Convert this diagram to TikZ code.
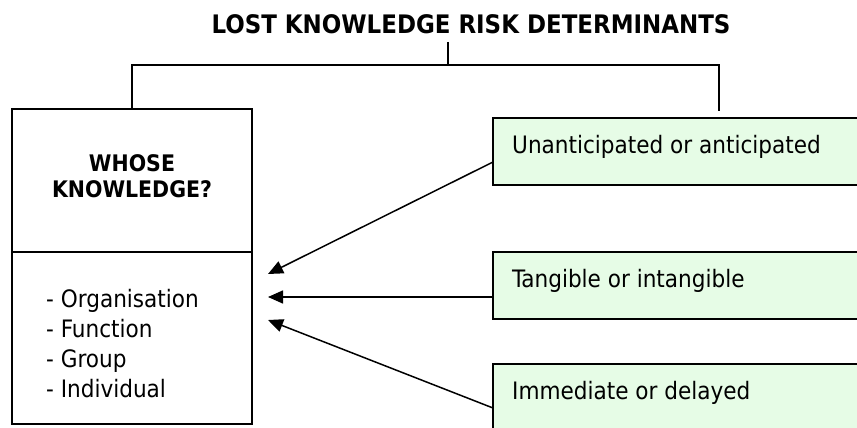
\documentclass[tikz,border=0pt]{standalone}
\usepackage{fontspec}
\setmainfont{DejaVu Sans Condensed}
\usetikzlibrary{arrows.meta}
\definecolor{paleg}{RGB}{230,252,230}
\tikzset{
  frame/.style={draw=black, line width=1.5pt, inner sep=0pt, outer sep=0pt},
  factor/.style={frame, fill=paleg, anchor=north west, minimum width=420pt, minimum height=67pt},
  label/.style={inner sep=0pt, anchor=base west, font=\fontsize{24}{28}\selectfont},
  heading/.style={inner sep=0pt, anchor=base, font=\fontsize{25.5}{30}\selectfont\bfseries},
  boxhead/.style={inner sep=0pt, anchor=base, font=\fontsize{22.8}{27}\selectfont\bfseries},
  wire/.style={line width=1.5pt},
  arr/.style={line width=1.5pt, -{Triangle[length=15pt,width=13pt]}}
}
\begin{document}
\begin{tikzpicture}[x=1pt,y=-1pt]
  \clip (0,0) rectangle (857,428);
  \fill[white] (0,0) rectangle (857,428);

  % title
  \node[heading] (title) at (471,34) {LOST KNOWLEDGE RISK DETERMINANTS};

  % left box: heading part and list part
  \node[frame, anchor=north west, minimum width=240pt, minimum height=143pt] (whose) at (12,109) {};
  \node[frame, anchor=north west, minimum width=240pt, minimum height=172pt] (levels) at (12,252) {};
  \node[boxhead] (w1) at (132,171) {WHOSE};
  \node[boxhead] (w2) at (132,197) {KNOWLEDGE?};
  \node[label] (l1) at (46,307) {- Organisation};
  \node[label] (l2) at (46,337) {- Function};
  \node[label] (l3) at (46,367) {- Group};
  \node[label] (l4) at (46,397) {- Individual};

  % determinant boxes
  \node[factor] (g1) at (493,118) {};
  \node[factor] (g2) at (493,252) {};
  \node[factor] (g3) at (493,364) {};
  \node[label] (t1) at (512,153) {Unanticipated or anticipated};
  \node[label] (t2) at (512,287) {Tangible or intangible};
  \node[label] (t3) at (512,399) {Immediate or delayed};

  % tree under the title
  \coordinate (stem) at (448,42);
  \coordinate (bar) at (448,65);
  \coordinate (rjoin) at (719,111);
  \draw[wire] (stem) -- (bar);
  \draw[wire] (whose.north) |- (bar) -| (rjoin);

  % arrows into the list
  \coordinate (p1) at (268,274);
  \coordinate (p2) at (268,297);
  \coordinate (p3) at (268,320);
  \draw[arr] ([yshift=-10.5pt]g1.west) -- (p1);
  \draw[arr] ([yshift=-11.5pt]g2.west) -- (p2);
  \draw[arr] ([yshift=-10.5pt]g3.west) -- (p3);
\end{tikzpicture}
\end{document}
